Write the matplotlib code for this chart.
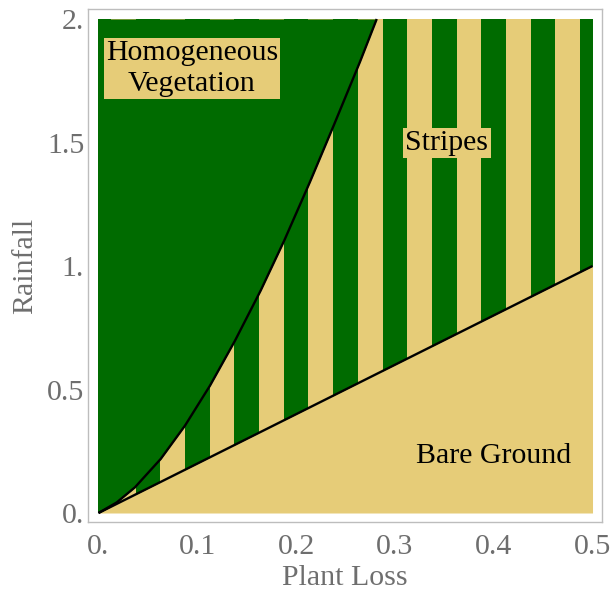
import matplotlib
matplotlib.use("Agg")
import matplotlib.pyplot as plt

# ---- data ----
# lower boundary (bare ground / stripes)
lower_x = [0.0, 0.5]
lower_y = [0.0, 1.0]
# upper boundary (homogeneous vegetation / stripes)
upper_x = [0.0, 0.0185, 0.0369, 0.0630, 0.0876, 0.1129, 0.1382, 0.1642,
           0.1881, 0.2141, 0.2387, 0.2647, 0.2816]
upper_y = [0.0, 0.043, 0.104, 0.219, 0.354, 0.516, 0.698, 0.901,
           1.104, 1.341, 1.575, 1.827, 2.0]
# stripe edges (alternating green / tan, starting green)
stripe_edges = [0.0, 0.0125, 0.0375, 0.0625, 0.0875, 0.1125, 0.1375, 0.1625,
                0.1875, 0.2125, 0.2375, 0.2625, 0.2875, 0.3125, 0.3375,
                0.3625, 0.3875, 0.4125, 0.4375, 0.4625, 0.4875, 0.5]
x_ticks = [0.0, 0.1, 0.2, 0.3, 0.4, 0.5]
x_tick_labels = ["0.", "0.1", "0.2", "0.3", "0.4", "0.5"]
y_ticks = [0.0, 0.5, 1.0, 1.5, 2.0]
y_tick_labels = ["0.", "0.5", "1.", "1.5", "2."]
region_labels = ["Homogeneous\nVegetation", "Stripes", "Bare Ground"]
y_top = 2.0

GREEN = "#006B00"
TAN = "#E6CC78"
GRAY = "#6E6E6E"
FONT = "Liberation Serif"
FS = 21.5

plt.rcParams["font.family"] = [FONT, "DejaVu Serif"]

fig = plt.figure(figsize=(6.11, 6.0), dpi=100)
ax = fig.add_axes([88.3 / 611, 78 / 600, 513.7 / 611, 513 / 600])

# stripes
lefts = stripe_edges[:-1]
widths = [b - a for a, b in zip(stripe_edges[:-1], stripe_edges[1:])]
colors = [GREEN if i % 2 == 0 else TAN for i in range(len(lefts))]
ax.bar(lefts, y_top, width=widths, align="edge", color=colors,
       edgecolor="none", linewidth=0, zorder=1, antialiased=False)

# homogeneous vegetation above the upper curve
ax.fill_between(upper_x + [0.5], upper_y + [y_top], y_top, color=GREEN,
                linewidth=0, zorder=2, antialiased=False)
# bare ground below the lower line
ax.fill_between(lower_x, 0, lower_y, color=TAN, linewidth=0, zorder=2,
                antialiased=False)

# boundaries
ax.plot(upper_x, upper_y, color="black", lw=1.7, zorder=3,
        solid_capstyle="butt", solid_joinstyle="round")
ax.plot(lower_x, lower_y, color="black", lw=1.7, zorder=3,
        solid_capstyle="butt")

# region labels
box = dict(facecolor=TAN, edgecolor="none", pad=1.5)
ax.text(0.0946, 1.798, region_labels[0], ha="center", va="center",
        fontsize=FS, color="black", linespacing=1.25, bbox=box, zorder=4)
ax.text(0.3527, 1.498, region_labels[1], ha="center", va="center",
        fontsize=FS, color="black", bbox=box, zorder=4)
ax.text(0.4003, 0.202, region_labels[2], ha="center", va="baseline",
        fontsize=FS, color="black", zorder=4)

# axes
ax.set_xlim(-0.0103, 0.5096)
ax.set_ylim(-0.0364, 2.0405)
ax.set_xticks(x_ticks, x_tick_labels)
ax.set_yticks(y_ticks, y_tick_labels)
ax.tick_params(length=0, labelsize=FS, labelcolor=GRAY)
ax.tick_params(axis="x", pad=8.5)
ax.tick_params(axis="y", pad=3)
for s in ax.spines.values():
    s.set_color("#BDBDBD")
    s.set_linewidth(1.0)

ax.set_xlabel("Plant Loss", fontsize=FS, color=GRAY)
ax.set_ylabel("Rainfall", fontsize=FS, color=GRAY)
ax.xaxis.set_label_coords(0.5, -0.109)
ax.xaxis.label.set_va("center")
ax.yaxis.set_label_coords(-0.123, 0.5)
ax.yaxis.label.set_va("center")

fig.savefig("out.png", dpi=100, facecolor="white")
